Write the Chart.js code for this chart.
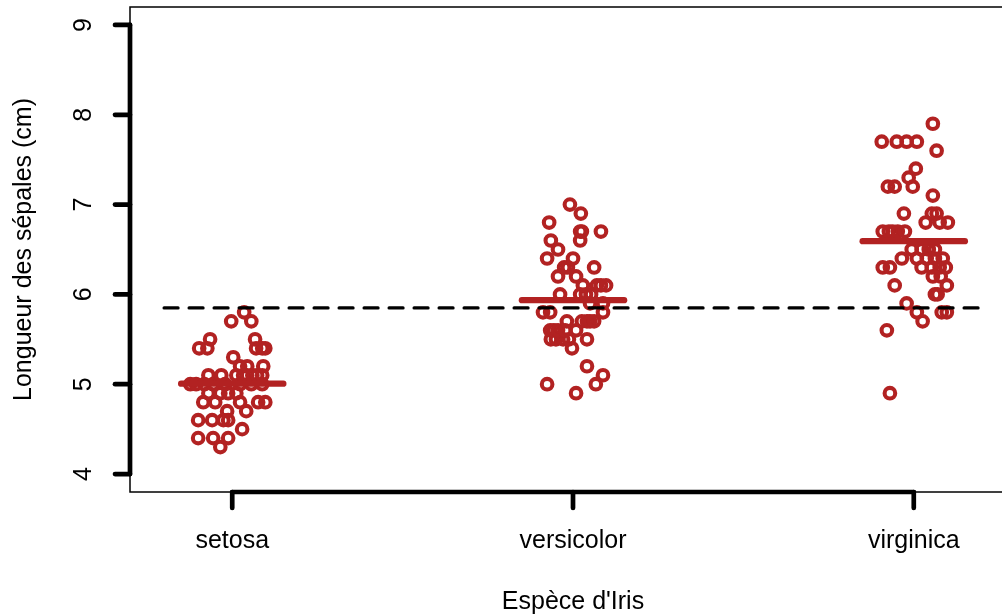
<!DOCTYPE html>
<html>
<head>
<meta charset="utf-8">
<script src="https://cdn.jsdelivr.net/npm/chart.js@4"></script>
<style>
  html, body { margin: 0; padding: 0; overflow: hidden; background: #fff; }
  #wrap { position: relative; width: 1002px; height: 616px; overflow: hidden; }
  #c { position: absolute; left: 0; top: -20px; }
</style>
</head>
<body>
<div id="wrap"><canvas id="c" width="1040" height="656"></canvas></div>
<script>
// ---- data ----
const categories = ['setosa', 'versicolor', 'virginica'];
const yTickLabels = [4, 5, 6, 7, 8, 9];
const xTitle = "Espèce d'Iris";
const yTitle = 'Longueur des sépales (cm)';

const setosaValues = [4.3, 4.4, 4.4, 4.4, 4.5, 4.6, 4.6, 4.6, 4.6, 4.7, 4.7, 4.8, 4.8, 4.8, 4.8, 4.8,
  4.9, 4.9, 4.9, 4.9, 5.0, 5.0, 5.0, 5.0, 5.0, 5.0, 5.0, 5.0, 5.1, 5.1, 5.1, 5.1, 5.1, 5.1, 5.1, 5.1,
  5.2, 5.2, 5.2, 5.3, 5.4, 5.4, 5.4, 5.4, 5.4, 5.5, 5.5, 5.7, 5.7, 5.8];
const setosaJitter = [-0.035, -0.100, -0.056, -0.012, 0.029, -0.100, -0.059, -0.026, -0.012, -0.015, 0.041,
  -0.085, -0.050, 0.023, 0.076, 0.097, -0.070, -0.035, -0.012, 0.012,
  -0.123, -0.106, -0.082, -0.056, -0.021, 0.023, 0.056, 0.088,
  -0.070, -0.032, 0.012, 0.032, 0.044, 0.059, 0.073, 0.088,
  0.023, 0.044, 0.091, 0.003, -0.097, -0.073, 0.070, 0.088, 0.097, -0.065, 0.067, -0.003, 0.056, 0.035];

const versicolorValues = [4.9, 5.0, 5.0, 5.1, 5.2, 5.4, 5.5, 5.5, 5.5, 5.5, 5.5, 5.6, 5.6, 5.6, 5.6, 5.6,
  5.7, 5.7, 5.7, 5.7, 5.7, 5.8, 5.8, 5.8, 5.9, 5.9, 6.0, 6.0, 6.0, 6.0, 6.1, 6.1, 6.1, 6.1,
  6.2, 6.2, 6.3, 6.3, 6.3, 6.4, 6.4, 6.5, 6.6, 6.6, 6.7, 6.7, 6.7, 6.8, 6.9, 7.0];
const versicolorJitter = [0.009, -0.076, 0.067, 0.088, 0.041, -0.003, -0.065, -0.050, -0.029, -0.012, 0.041,
  -0.067, -0.056, -0.044, -0.023, 0.009, -0.018, 0.026, 0.041, 0.050, 0.062, -0.088, -0.067, 0.088,
  0.050, 0.088, -0.038, 0.021, 0.038, 0.053, 0.029, 0.070, 0.082, 0.097, -0.044, 0.009,
  -0.026, -0.015, 0.062, -0.076, 0.000, -0.044, -0.065, 0.021, 0.021, 0.026, 0.082, -0.070, 0.023, -0.009];

const virginicaValues = [4.9, 5.6, 5.7, 5.8, 5.8, 5.8, 5.9, 6.0, 6.0, 6.1, 6.1, 6.2, 6.2,
  6.3, 6.3, 6.3, 6.3, 6.3, 6.3, 6.4, 6.4, 6.4, 6.4, 6.4, 6.5, 6.5, 6.5, 6.5,
  6.7, 6.7, 6.7, 6.7, 6.7, 6.8, 6.8, 6.8, 6.9, 6.9, 6.9, 7.1, 7.2, 7.2, 7.2, 7.3, 7.4, 7.6,
  7.7, 7.7, 7.7, 7.7, 7.9];
const virginicaJitter = [-0.070, -0.079, 0.026, 0.009, 0.082, 0.097, -0.021, 0.062, 0.070, -0.056, 0.097,
  0.056, 0.079, -0.091, -0.070, 0.023, 0.053, 0.076, 0.094, -0.035, 0.009, 0.038, 0.062, 0.085,
  -0.006, 0.023, 0.044, 0.062, -0.091, -0.073, -0.062, -0.047, -0.026, 0.035, 0.076, 0.100,
  -0.029, 0.053, 0.067, 0.056, -0.076, -0.056, -0.003, -0.015, 0.006, 0.067,
  -0.094, -0.050, -0.021, 0.009, 0.056];

// ---- build ----
const seriesValues = [setosaValues, versicolorValues, virginicaValues];
const seriesJitter = [setosaJitter, versicolorJitter, virginicaJitter];
const RED = '#B22222';
const FONT = '"Liberation Sans", Arial, Helvetica, sans-serif';
const mean = a => a.reduce((s, v) => s + v, 0) / a.length;
const allValues = [].concat(...seriesValues);
const grandMean = mean(allValues);

const datasets = [];
seriesValues.forEach((vals, i) => {
  datasets.push({
    label: categories[i],
    data: vals.map((v, k) => ({ x: i + 1 + seriesJitter[i][k], y: v })),
    pointStyle: 'circle', pointRadius: 5.3, pointBorderWidth: 4.1,
    pointBorderColor: RED, pointBackgroundColor: 'rgba(0,0,0,0)',
    pointHoverRadius: 5.3, order: 3, clip: false
  });
});
seriesValues.forEach((vals, i) => {
  const m = mean(vals);
  datasets.push({
    label: categories[i] + ' mean',
    data: [{ x: i + 1 - 0.15, y: m }, { x: i + 1 + 0.15, y: m }],
    showLine: true, borderColor: RED, borderWidth: 6.3, borderCapStyle: 'round',
    pointRadius: 0, order: 2, clip: false
  });
});
datasets.push({
  label: 'overall mean',
  data: [{ x: 0.8, y: grandMean }, { x: 3.2, y: grandMean }],
  showLine: true, borderColor: '#000', borderWidth: 3.2, borderDash: [14, 11],
  borderCapStyle: 'round', pointRadius: 0, order: 1, clip: false
});

const axesPlugin = {
  id: 'rAxes',
  afterDraw(chart) {
    const ctx = chart.ctx, xs = chart.scales.x, ys = chart.scales.y, a = chart.chartArea;
    ctx.save();
    // box
    ctx.strokeStyle = '#000'; ctx.lineWidth = 1.5; ctx.lineCap = 'butt';
    ctx.strokeRect(a.left, a.top, a.right - a.left, a.bottom - a.top);
    // y axis
    ctx.lineWidth = 4.7; ctx.lineCap = 'round';
    const y0 = ys.getPixelForValue(yTickLabels[0]);
    const y1 = ys.getPixelForValue(yTickLabels[yTickLabels.length - 1]);
    ctx.beginPath(); ctx.moveTo(a.left, y0); ctx.lineTo(a.left, y1); ctx.stroke();
    yTickLabels.forEach(t => {
      const py = ys.getPixelForValue(t);
      ctx.beginPath(); ctx.moveTo(a.left, py); ctx.lineTo(a.left - 15, py); ctx.stroke();
    });
    // x axis
    const x0 = xs.getPixelForValue(1), x1 = xs.getPixelForValue(categories.length);
    ctx.beginPath(); ctx.moveTo(x0, a.bottom); ctx.lineTo(x1, a.bottom); ctx.stroke();
    categories.forEach((c, i) => {
      const px = xs.getPixelForValue(i + 1);
      ctx.beginPath(); ctx.moveTo(px, a.bottom); ctx.lineTo(px, a.bottom + 16); ctx.stroke();
    });
    // labels
    ctx.fillStyle = '#000';
    ctx.font = '25px ' + FONT;
    ctx.textAlign = 'center'; ctx.textBaseline = 'alphabetic';
    categories.forEach((c, i) => {
      ctx.fillText(c, xs.getPixelForValue(i + 1), a.bottom + 56);
    });
    ctx.fillText(xTitle, xs.getPixelForValue(2), a.bottom + 117);
    yTickLabels.forEach(t => {
      const py = ys.getPixelForValue(t);
      ctx.save(); ctx.translate(a.left - 39, py); ctx.rotate(-Math.PI / 2);
      ctx.fillText(String(t), 0, 0); ctx.restore();
    });
    ctx.save(); ctx.translate(a.left - 99, (a.top + a.bottom) / 2); ctx.rotate(-Math.PI / 2);
    ctx.fillText(yTitle, 0, 0); ctx.restore();
    ctx.restore();
  }
};

new Chart(document.getElementById('c'), {
  type: 'scatter',
  data: { datasets },
  options: {
    responsive: false, animation: false, devicePixelRatio: 1,
    layout: { padding: { left: 130, top: 27, right: 24, bottom: 144 } },
    plugins: { legend: { display: false }, tooltip: { enabled: false } },
    scales: {
      x: { type: 'linear', min: 0.7, max: 3.3, display: false },
      y: { type: 'linear', min: 3.8, max: 9.2, display: false }
    }
  },
  plugins: [axesPlugin]
});
</script>
</body>
</html>
